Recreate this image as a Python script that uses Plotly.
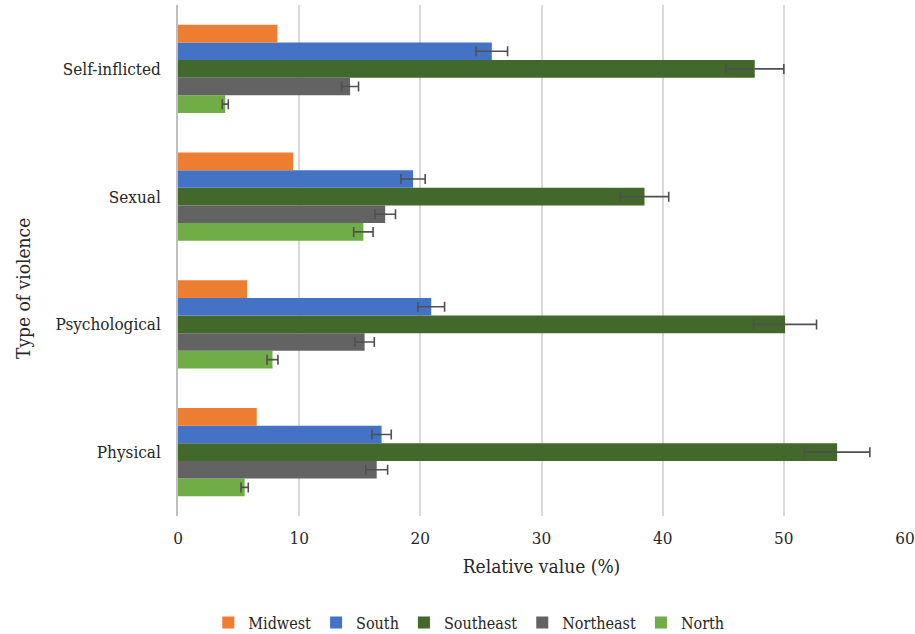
import plotly.graph_objects as go

# Categories (bottom to top on the y axis)
violence_types = ["Physical", "Psychological", "Sexual", "Self-inflicted"]

# Relative values (%) per region, in the order of violence_types
midwest = [6.5, 5.7, 9.5, 8.2]
south = [16.8, 20.9, 19.4, 25.9]
southeast = [54.4, 50.1, 38.5, 47.6]
northeast = [16.4, 15.4, 17.1, 14.2]
north = [5.5, 7.8, 15.3, 3.9]

# Error margins (±)
south_err = [0.8, 1.1, 1.0, 1.3]
southeast_err = [2.7, 2.6, 2.0, 2.4]
northeast_err = [0.9, 0.8, 0.85, 0.7]
north_err = [0.3, 0.45, 0.8, 0.25]

FONT = "DejaVu Serif Condensed"
TEXT = "#262626"
ERR_COLOR = "#505050"

# Traces added bottom-to-top within each group
series = [
    ("North", north, north_err, "#70AD47"),
    ("Northeast", northeast, northeast_err, "#636363"),
    ("Southeast", southeast, southeast_err, "#43682B"),
    ("South", south, south_err, "#4472C4"),
    ("Midwest", midwest, None, "#ED7D31"),
]

fig = go.Figure()
for name, vals, err, color in series:
    kw = {}
    if err is not None:
        kw["error_x"] = dict(type="data", array=err, visible=True,
                             color=ERR_COLOR, thickness=1.6, width=5)
    fig.add_trace(go.Bar(
        y=violence_types, x=vals, name=name, orientation="h",
        marker=dict(color=color, line=dict(width=0)), **kw))

fig.update_layout(
    width=915, height=634,
    barmode="group", bargap=0.31, bargroupgap=0,
    plot_bgcolor="white", paper_bgcolor="white",
    margin=dict(l=178, r=10, t=5, b=118, autoexpand=False),
    font=dict(family=FONT, size=16, color=TEXT),
    legend=dict(orientation="h", traceorder="reversed",
                x=0.4, xanchor="center",
                yref="container", y=0.018, yanchor="middle",
                font=dict(family=FONT, size=16, color=TEXT),
                itemwidth=30, tracegroupgap=0),
    xaxis=dict(range=[0, 60], dtick=10, showgrid=True,
               gridcolor="#D9D9D9", gridwidth=1.5, zeroline=False,
               showline=False, ticks="",
               tickfont=dict(family=FONT, size=17, color=TEXT),
               ticklabelstandoff=10,
               title=dict(text="Relative value (%)", standoff=12,
                          font=dict(family=FONT, size=19, color=TEXT))),
    yaxis=dict(categoryorder="array", categoryarray=violence_types,
               showgrid=False, showline=True, linecolor="#BFBFBF",
               linewidth=1.5, ticks="",
               tickfont=dict(family=FONT, size=17, color=TEXT),
               ticklabelstandoff=12),
    # Vertical-axis title, centred on the chart area rather than the plot
    annotations=[dict(text="Type of violence", textangle=-90,
                      xref="paper", yref="paper",
                      x=-178 / 727 + 23 / 727, xanchor="center",
                      y=(634 - 118 - 288) / (634 - 118 - 5), yanchor="middle",
                      showarrow=False,
                      font=dict(family=FONT, size=19, color=TEXT))],
)

fig.write_html("out.html")
